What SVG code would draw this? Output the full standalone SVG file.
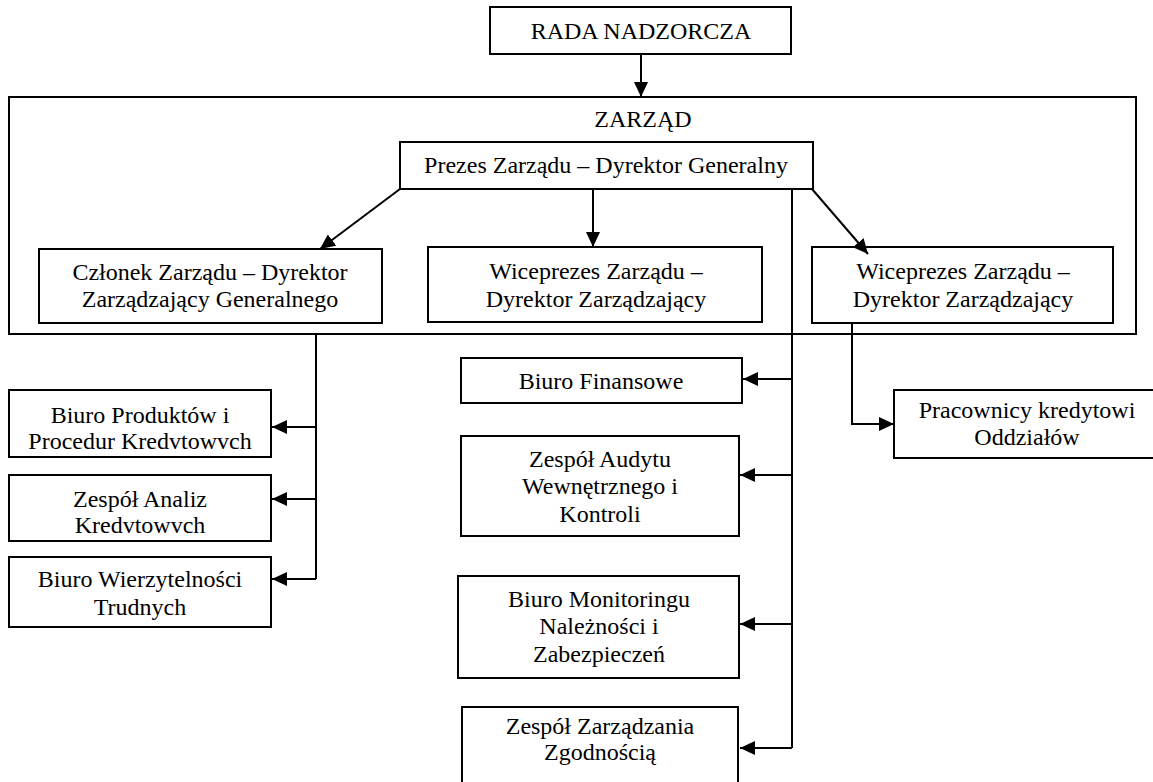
<svg xmlns="http://www.w3.org/2000/svg" width="1153" height="782" viewBox="0 0 1153 782">
<style>
.box{fill:#fff;stroke:#000;stroke-width:2}
.frame{fill:none;stroke:#000;stroke-width:2}
.t{font-size:24px;fill:#000;text-anchor:middle}
.c{fill:none;stroke:#000;stroke-width:2}
.a{marker-end:url(#ah)}
</style>
<defs>
<marker id="ah" markerUnits="userSpaceOnUse" markerWidth="16" markerHeight="14" refX="15" refY="7" orient="auto">
<path d="M0,0 L15,7 L0,14 Z" fill="#000"/>
</marker>
</defs>
<rect width="1153" height="782" fill="#fff"/>
<g font-family="Liberation Serif, Tinos, Times New Roman, DejaVu Serif, serif">
<g id="zarzad">
<rect class="frame" x="9" y="97" width="1127" height="237"/>
<text class="t" x="643" y="127">ZARZĄD</text>
</g>
<g id="rada">
<rect class="box" x="490" y="7" width="301" height="47"/>
<text class="t" x="641" y="39">RADA NADZORCZA</text>
</g>
<g id="prezes">
<rect class="box" x="400" y="142" width="413" height="47"/>
<text class="t" x="606" y="173">Prezes Zarządu – Dyrektor Generalny</text>
</g>
<g id="czlonek">
<rect class="box" x="39" y="249" width="343" height="74"/>
<text class="t" x="210" y="280">Członek Zarządu – Dyrektor</text>
<text class="t" x="210" y="307">Zarządzający Generalnego</text>
</g>
<g id="wiceprezes1">
<rect class="box" x="428" y="247" width="334" height="75"/>
<text class="t" x="596" y="279">Wiceprezes Zarządu –</text>
<text class="t" x="596" y="307">Dyrektor Zarządzający</text>
</g>
<g id="wiceprezes2">
<rect class="box" x="812" y="247" width="301" height="76"/>
<text class="t" x="963" y="279">Wiceprezes Zarządu –</text>
<text class="t" x="963" y="307">Dyrektor Zarządzający</text>
</g>
<g id="biuro-produktow">
<rect class="box" x="9" y="390" width="262" height="67"/>
<text class="t" x="140" y="423">Biuro Produktów i</text>
<text class="t" x="140" y="449">Procedur Kredvtowvch</text>
</g>
<g id="zespol-analiz">
<rect class="box" x="9" y="475" width="262" height="66"/>
<text class="t" x="140" y="507">Zespół Analiz</text>
<text class="t" x="140" y="533">Kredvtowvch</text>
</g>
<g id="biuro-wierzytelnosci">
<rect class="box" x="9" y="557" width="262" height="70"/>
<text class="t" x="140" y="587">Biuro Wierzytelności</text>
<text class="t" x="140" y="615">Trudnych</text>
</g>
<g id="biuro-finansowe">
<rect class="box" x="461" y="358" width="281" height="45"/>
<text class="t" x="601" y="389">Biuro Finansowe</text>
</g>
<g id="zespol-audytu">
<rect class="box" x="461" y="436" width="278" height="100"/>
<text class="t" x="600" y="467">Zespół Audytu</text>
<text class="t" x="600" y="494">Wewnętrznego i</text>
<text class="t" x="600" y="522">Kontroli</text>
</g>
<g id="biuro-monitoringu">
<rect class="box" x="458" y="576" width="281" height="102"/>
<text class="t" x="599" y="607">Biuro Monitoringu</text>
<text class="t" x="599" y="634">Należności i</text>
<text class="t" x="599" y="662">Zabezpieczeń</text>
</g>
<g id="zespol-zgodnosci">
<rect class="box" x="462" y="707" width="276" height="85"/>
<text class="t" x="600" y="734">Zespół Zarządzania</text>
<text class="t" x="600" y="760">Zgodnością</text>
</g>
<g id="pracownicy">
<rect class="box" x="894" y="390" width="270" height="68"/>
<text class="t" x="1027" y="418">Pracownicy kredytowi</text>
<text class="t" x="1027" y="445">Oddziałów</text>
</g>
</g>
<g id="connectors">
<line class="c a" x1="641" y1="54" x2="641" y2="97"/>
<line class="c a" x1="400" y1="189" x2="320" y2="249"/>
<line class="c a" x1="593" y1="189" x2="593" y2="247"/>
<line class="c a" x1="812" y1="189" x2="868" y2="254"/>
<polyline class="c" points="792,189 792,748"/>
<line class="c a" x1="792" y1="379" x2="743" y2="379"/>
<line class="c a" x1="792" y1="475" x2="740" y2="475"/>
<line class="c a" x1="792" y1="624" x2="740" y2="624"/>
<line class="c a" x1="792" y1="748" x2="740" y2="748"/>
<polyline class="c" points="316,334 316,579"/>
<line class="c a" x1="316" y1="427" x2="272" y2="427"/>
<line class="c a" x1="316" y1="499" x2="272" y2="499"/>
<line class="c a" x1="316" y1="579" x2="272" y2="579"/>
<polyline class="c a" points="852,323 852,424 894,424"/>
</g>
</svg>
